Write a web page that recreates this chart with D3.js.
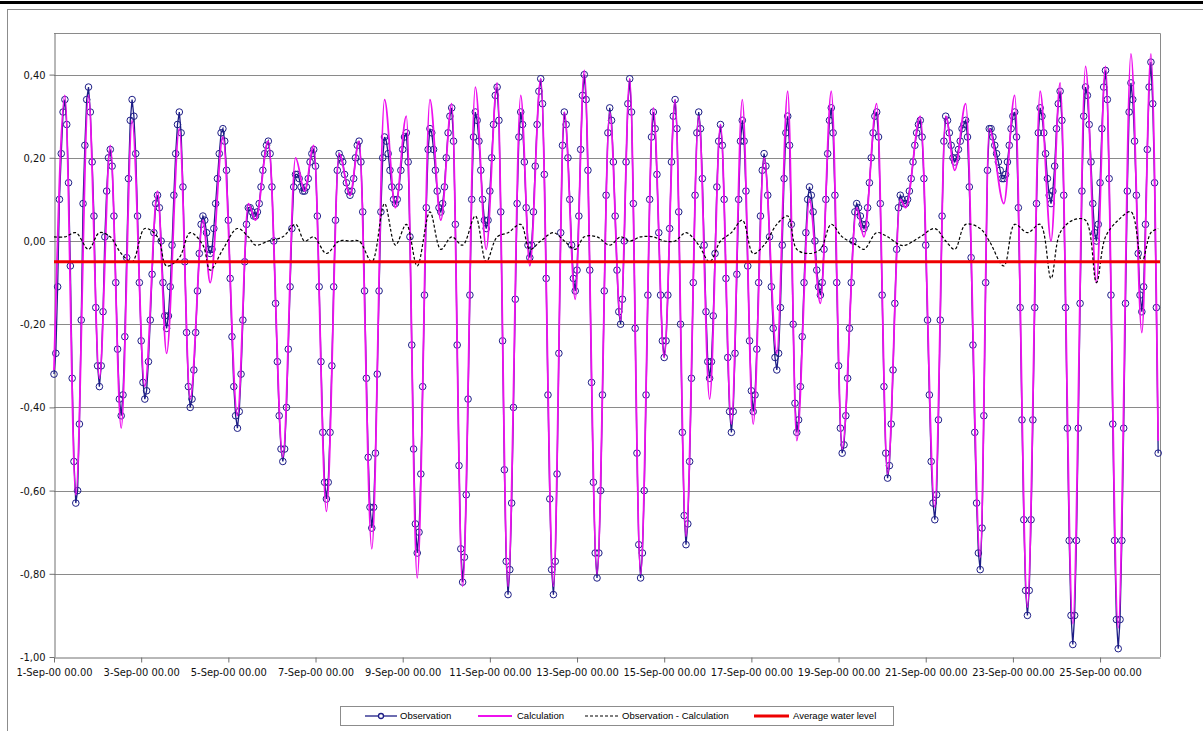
<!DOCTYPE html>
<html>
<head>
<meta charset="utf-8">
<script src="https://cdn.jsdelivr.net/npm/d3@7"></script>
<style>
body { margin: 0; background: #fff; }
svg { display: block; }
</style>
</head>
<body>
<div id="chart"></div>
<script>
var width = 1203;
var height = 731;

// hourly observed water level, from 1-Sep-00 00.00 (index = hour)
var obsLevel = [
  -0.32,-0.27,-0.11,0.10,0.21,0.31,0.34,0.28,0.14,-0.06,-0.33,-0.53,-0.63,-0.60,-0.44,-0.19,0.09,0.23,0.34,0.37,0.31,0.19,0.06,-0.16,-0.30,-0.35,-0.30,-0.17,0.01,0.12,0.20,0.22,
  0.18,0.06,-0.10,-0.26,-0.38,-0.42,
  -0.37,-0.23,-0.04,0.15,0.29,0.34,
  0.30,0.21,0.06,-0.10,-0.24,-0.34,-0.38,
  -0.36,-0.29,-0.19,-0.08,0.02,0.09,0.11,
  0.08,0.00,-0.10,-0.18,-0.21,
  -0.18,-0.11,-0.01,0.11,0.21,0.28,0.31,
  0.26,0.13,-0.05,-0.22,-0.35,-0.40,
  -0.38,-0.31,-0.22,-0.12,-0.03,0.04,0.06,
  0.05,0.02,-0.02,-0.03,
  -0.02,0.03,0.09,0.15,0.21,0.26,0.27,
  0.24,0.17,0.05,-0.09,-0.23,-0.35,-0.42,-0.45,
  -0.41,-0.32,-0.19,-0.05,0.04,0.08,
  0.08,0.07,0.06,0.06,
  0.07,0.09,0.13,0.17,0.21,0.23,0.24,
  0.21,0.13,0.00,-0.15,-0.29,-0.42,-0.50,-0.53,
  -0.50,-0.40,-0.26,-0.11,0.03,0.13,0.16,
  0.16,0.15,0.13,0.12,0.12,
  0.13,0.15,0.19,0.21,0.22,
  0.18,0.06,-0.11,-0.29,-0.46,-0.58,-0.62,
  -0.58,-0.46,-0.30,-0.11,0.05,0.17,0.21,
  0.20,0.19,0.16,0.14,0.12,0.11,
  0.12,0.15,0.20,0.23,0.24,
  0.19,0.07,-0.12,-0.33,-0.52,-0.64,-0.69,
  -0.64,-0.51,-0.32,-0.12,0.07,0.20,0.25,
  0.24,0.21,0.17,0.13,0.10,0.09,
  0.10,0.13,0.17,0.22,0.25,0.26,
  0.19,0.01,-0.25,-0.50,-0.68,-0.75,
  -0.70,-0.56,-0.35,-0.13,0.08,0.22,0.27,
  0.26,0.22,0.17,0.12,0.08,0.07,
  0.09,0.13,0.20,0.26,0.30,0.32,
  0.24,0.04,-0.25,-0.54,-0.74,-0.82,
  -0.76,-0.61,-0.38,-0.13,0.10,0.25,0.31,
  0.29,0.24,0.17,0.10,0.05,0.03,
  0.05,0.12,0.20,0.28,0.35,0.37,
  0.29,0.07,-0.24,-0.55,-0.77,-0.85,
  -0.79,-0.63,-0.40,-0.14,0.09,0.25,0.31,
  0.28,0.19,0.08,-0.01,-0.04,
  -0.01,0.07,0.18,0.28,0.36,0.39,
  0.33,0.16,-0.09,-0.37,-0.62,-0.79,-0.85,
  -0.77,-0.56,-0.27,0.02,0.23,0.31,
  0.28,0.20,0.10,-0.01,-0.09,-0.12,
  -0.07,0.06,0.22,0.35,0.40,
  0.34,0.17,-0.07,-0.34,-0.58,-0.75,-0.81,
  -0.75,-0.60,-0.37,-0.12,0.11,0.26,0.32,
  0.29,0.19,0.06,-0.07,-0.17,-0.20,
  -0.14,0.00,0.19,0.33,0.39,
  0.31,0.09,-0.21,-0.51,-0.73,-0.81,
  -0.75,-0.60,-0.37,-0.13,0.10,0.25,0.31,
  0.27,0.16,0.02,-0.13,-0.24,-0.28,
  -0.24,-0.13,0.03,0.19,0.30,0.34,
  0.27,0.07,-0.20,-0.46,-0.66,-0.73,
  -0.68,-0.53,-0.33,-0.10,0.11,0.26,0.31,
  0.27,0.15,-0.01,-0.17,-0.29,-0.33,
  -0.29,-0.18,-0.03,0.13,0.24,0.28,
  0.23,0.10,-0.09,-0.28,-0.41,-0.46,
  -0.41,-0.27,-0.08,0.10,0.24,0.29,
  0.24,0.12,-0.06,-0.24,-0.36,-0.41,
  -0.37,-0.26,-0.10,0.06,0.17,0.21,
  0.18,0.11,0.01,-0.11,-0.21,-0.28,-0.31,
  -0.27,-0.16,-0.01,0.15,0.26,0.30,
  0.23,0.04,-0.20,-0.39,-0.46,
  -0.43,-0.35,-0.23,-0.10,0.02,0.10,0.13,
  0.11,0.07,0.00,-0.07,-0.11,-0.13,
  -0.10,-0.02,0.10,0.21,0.29,0.32,
  0.26,0.11,-0.10,-0.30,-0.45,-0.51,
  -0.49,-0.42,-0.33,-0.21,-0.10,0.00,0.07,0.09,
  0.08,0.06,0.04,0.03,
  0.04,0.08,0.14,0.20,0.26,0.30,0.31,
  0.25,0.09,-0.13,-0.35,-0.51,-0.57,
  -0.54,-0.44,-0.31,-0.15,-0.02,0.08,0.11,
  0.10,0.09,0.09,
  0.10,0.12,0.15,0.19,0.23,0.26,0.28,0.29,
  0.25,0.15,-0.01,-0.19,-0.37,-0.53,-0.63,-0.67,
  -0.61,-0.43,-0.19,0.06,0.24,0.30,
  0.29,0.26,0.23,0.20,0.19,
  0.20,0.22,0.24,0.27,0.28,0.29,
  0.25,0.13,-0.04,-0.25,-0.46,-0.63,-0.75,-0.79,
  -0.69,-0.42,-0.10,0.17,0.27,
  0.27,0.25,0.23,0.21,0.19,0.17,0.15,0.15,
  0.16,0.19,0.23,0.27,0.30,0.31,
  0.25,0.08,-0.16,-0.43,-0.67,-0.84,-0.90,
  -0.84,-0.67,-0.43,-0.16,0.09,0.26,0.32,
  0.30,0.26,0.21,0.15,0.11,0.09,
  0.12,0.18,0.27,0.33,0.36,
  0.29,0.11,-0.16,-0.45,-0.72,-0.90,-0.97,
  -0.90,-0.72,-0.45,-0.15,0.12,0.30,0.37,
  0.35,0.28,0.19,0.09,0.02,0.00,
  0.04,0.14,0.27,0.37,0.41,
  0.34,0.15,-0.13,-0.44,-0.72,-0.91,-0.98,
  -0.91,-0.72,-0.45,-0.15,0.12,0.31,0.38,
  0.34,0.24,0.11,-0.03,-0.13,-0.17,
  -0.11,0.04,0.22,0.37,0.43,
  0.33,0.14,-0.16,-0.51
];

// hours of high and low water, and the calculated level there
var turnHours = [
  0,6,12,19,25,31,37,43,50,57,
  62,69,75,82,86,93,101,107,111,118,
  126,133,138,143,150,157,163,168,175,182,
  188,194,200,207,213,219,225,232,238,244,
  250,257,262,268,275,281,287,292,299,306,
  312,317,323,330,336,342,348,355,361,367,
  373,379,385,391,398,404,409,416,422,428,
  434,442,446,453,459,466,469,477,485,491,
  496,502,510,515,523,529,536,543,549,554,
  561,568,574,579,586,593,599,604,608
];
var calcTurns = [
  -0.31,0.35,-0.61,0.35,-0.33,0.23,-0.45,0.29,-0.35,0.12,
  -0.27,0.27,-0.38,0.05,-0.10,0.25,-0.42,0.09,0.05,0.24,
  -0.52,0.20,0.12,0.23,-0.65,0.21,0.11,0.24,-0.74,0.34,
  0.08,0.30,-0.81,0.34,0.05,0.33,-0.83,0.37,-0.02,0.38,
  -0.83,0.35,-0.06,0.39,-0.83,0.31,-0.14,0.41,-0.80,0.31,
  -0.19,0.39,-0.80,0.32,-0.28,0.34,-0.71,0.30,-0.38,0.28,
  -0.44,0.34,-0.44,0.20,-0.27,0.36,-0.48,0.10,-0.15,0.36,
  -0.50,0.08,0.01,0.33,-0.56,0.10,0.08,0.30,-0.64,0.30,
  0.17,0.33,-0.76,0.27,0.09,0.35,-0.88,0.36,0.00,0.38,
  -0.92,0.42,-0.10,0.42,-0.93,0.45,-0.22,0.45,-0.48
];

var averageLevel = -0.05;
var yTicks = [-1.0, -0.8, -0.6, -0.4, -0.2, 0.0, 0.2, 0.4];
var legendNames = ["Observation", "Calculation", "Observation - Calculation", "Average water level"];

var start = Date.UTC(2000, 8, 1);
var hourMs = 3600 * 1000;
function hourDate(h) { return new Date(start + h * hourMs); }

var obsData = obsLevel.map(function (v, i) { return {date: hourDate(i), value: v}; });
var calcData = turnHours.map(function (h, i) { return {date: hourDate(h), value: calcTurns[i]}; });
// the residual curve in the source sheet is plotted with the sign of calc - obs
var diffData = turnHours.map(function (h, i) { return {date: hourDate(h), value: calcTurns[i] - obsLevel[h]}; });

var svg = d3.select("#chart")
  .append("svg")
  .attr("width", width)
  .attr("height", height);

svg.append("rect").attr("width", width).attr("height", height).attr("fill", "#fff");

// page rule and chart frame
svg.append("rect").attr("x", 0).attr("y", 1).attr("width", width).attr("height", 3).attr("fill", "#000");
svg.append("rect")
  .attr("x", 7.5).attr("y", 9.5)
  .attr("width", 1300).attr("height", 800)
  .attr("fill", "none").attr("stroke", "#8c8c8c");

var plotLeft = 54, plotRight = 1160, plotTop = 33, plotBottom = 657;

var x = d3.scaleUtc()
  .domain([hourDate(0), hourDate(609)])
  .range([plotLeft, plotRight]);
var y = d3.scaleLinear()
  .domain([-1, 0.5])
  .range([plotBottom, plotTop]);

var locale = d3.formatLocale({decimal: ",", thousands: ".", grouping: [3], currency: ["", ""], minus: "-"});
var yFormat = locale.format(".2f");

// grid
svg.append("g")
  .selectAll("line")
  .data(yTicks.filter(function (d) { return d > -1; }))
  .enter().append("line")
    .attr("x1", plotLeft).attr("x2", plotRight)
    .attr("y1", function (d) { return Math.round(y(d)) + 0.5; })
    .attr("y2", function (d) { return Math.round(y(d)) + 0.5; })
    .attr("stroke", "#8a8a8a");

// plot frame top and right
svg.append("path")
  .attr("d", "M" + plotLeft + "," + (plotTop + 0.5) + "H" + (plotRight + 0.5) + "V" + plotBottom)
  .attr("fill", "none").attr("stroke", "#8a8a8a");

// axes
var xAxis = svg.append("g")
  .attr("transform", "translate(0," + (plotBottom + 0.5) + ")")
  .call(d3.axisBottom(x)
    .ticks(d3.utcDay.every(2))
    .tickFormat(d3.utcFormat("%-d-%b-%y %H.%M"))
    .tickSize(5)
    .tickSizeOuter(0)
    .tickPadding(6));
var yAxis = svg.append("g")
  .attr("transform", "translate(" + (plotLeft + 0.5) + ",0)")
  .call(d3.axisLeft(y)
    .tickValues(yTicks)
    .tickFormat(yFormat)
    .tickSize(5)
    .tickSizeOuter(0)
    .tickPadding(4));
[xAxis, yAxis].forEach(function (g) {
  g.selectAll("path, line").attr("stroke", "#707070");
  g.selectAll("text")
    .attr("fill", "#111")
    .style("font-family", "'DejaVu Sans Condensed', 'DejaVu Sans', sans-serif")
    .style("font-size", "11px");
});

// series
var line = d3.line()
  .x(function (d) { return x(d.date); })
  .y(function (d) { return y(d.value); });

var navy = "#1d1d86";
var magenta = "#ee10ee";

svg.append("path")
  .datum(obsData)
  .attr("fill", "none")
  .attr("stroke", navy)
  .attr("stroke-width", 1.3)
  .attr("d", line);

svg.append("g")
  .selectAll("circle")
  .data(obsData)
  .enter().append("circle")
    .attr("cx", function (d) { return x(d.date); })
    .attr("cy", function (d) { return y(d.value); })
    .attr("r", 3.3)
    .attr("fill", "none")
    .attr("stroke", navy)
    .attr("stroke-width", 1);

svg.append("path")
  .datum(calcData)
  .attr("fill", "none")
  .attr("stroke", magenta)
  .attr("stroke-width", 1.8)
  .attr("d", line.curve(d3.curveMonotoneX));

svg.append("path")
  .datum(diffData)
  .attr("fill", "none")
  .attr("stroke", "#000")
  .attr("stroke-width", 1.2)
  .attr("stroke-dasharray", "3,2")
  .attr("d", line.curve(d3.curveCatmullRom.alpha(0.5)));

svg.append("line")
  .attr("x1", plotLeft).attr("x2", plotRight)
  .attr("y1", y(averageLevel)).attr("y2", y(averageLevel))
  .attr("stroke", "#ee0000")
  .attr("stroke-width", 3);

// legend
var legend = svg.append("g").attr("transform", "translate(340,706)");
legend.append("rect")
  .attr("x", 0.5).attr("y", 0.5)
  .attr("width", 553).attr("height", 19)
  .attr("fill", "#fff").attr("stroke", "#8c8c8c");

var legendItems = [
  {x1: 25, x2: 57, text: 60, stroke: navy, width: 1.3, dash: null, marker: true},
  {x1: 138, x2: 172, text: 177, stroke: magenta, width: 1.8, dash: null, marker: false},
  {x1: 245, x2: 279, text: 282, stroke: "#000", width: 1.2, dash: "3,2", marker: false},
  {x1: 414, x2: 449, text: 453, stroke: "#ee0000", width: 3, dash: null, marker: false}
];
legendItems.forEach(function (d, i) {
  legend.append("line")
    .attr("x1", d.x1).attr("x2", d.x2)
    .attr("y1", 10).attr("y2", 10)
    .attr("stroke", d.stroke)
    .attr("stroke-width", d.width)
    .attr("stroke-dasharray", d.dash);
  if (d.marker) {
    legend.append("circle")
      .attr("cx", (d.x1 + d.x2) / 2).attr("cy", 10).attr("r", 2.5)
      .attr("fill", "#fff").attr("stroke", navy).attr("stroke-width", 1.3);
  }
  legend.append("text")
    .attr("x", d.text).attr("y", 10)
    .attr("dy", "0.35em")
    .style("font-family", "'Liberation Sans', Arial, sans-serif")
    .style("font-size", "9.5px")
    .attr("fill", "#000")
    .text(legendNames[i]);
});
</script>
</body>
</html>
